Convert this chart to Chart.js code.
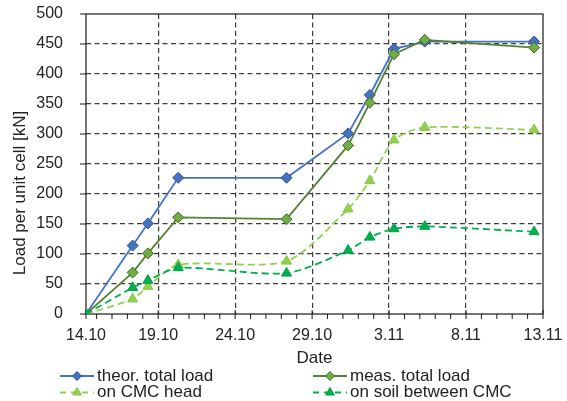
<!DOCTYPE html>
<html><head><meta charset="utf-8">
<script src="https://cdn.jsdelivr.net/npm/chart.js@4.4.1/dist/chart.umd.min.js"></script>
<style>html,body{margin:0;padding:0;background:#fff;}#wrap{width:567px;height:401px;}</style>
</head><body><div id="wrap"><canvas id="c" width="567" height="401"></canvas></div>
<script>
// x = days after 14.10 (19.10 = 5, 3.11 = 20, 13.11 = 30)
const days        = [0.31, 3.34, 4.33, 6.3, 13.34, 17.34, 18.75, 20.32, 22.32, 29.42];
const theorTotal  = [0, 114, 151, 227, 227, 301, 365, 442, 454, 454];
const measTotal   = [0, 69, 101, 161, 158, 281, 352, 433, 457, 444];
const onCmcHead   = [0, 25, 46, 82, 88, 175, 222, 290, 311, 307];
const onSoil      = [0, 44, 56, 77, 68, 106, 128, 142, 146, 137];
const tickDays    = [0.31, 5, 10, 15, 20, 25, 30];
const tickLabels  = ['14.10', '19.10', '24.10', '29.10', '3.11', '8.11', '13.11'];
const seriesNames = ['theor. total load', 'meas. total load', 'on CMC head', 'on soil between CMC'];
const yTitle = 'Load per unit cell [kN]';
const xTitle = 'Date';

const FONT = "'Liberation Sans', Arial, sans-serif";
const TXT = '#222222';
const GRID = '#3c3c3c';
const NONE = 'rgba(0,0,0,0)';

const styles = [
  {line:'#4472C4', fill:'#4472C4', edge:'#2F528F', shape:'rectRot', r:5.5, dash:[], w:1.8, tension:0},
  {line:'#548235', fill:'#70AD47', edge:'#40692A', shape:'rectRot', r:5.5, dash:[], w:1.8, tension:0},
  {line:'#92D050', fill:'#92D050', edge:'#86C445', shape:'triangle', r:5.8, dash:[7,4], w:1.8, tension:0.25},
  {line:'#00B050', fill:'#00B050', edge:'#00A048', shape:'triangle', r:5.8, dash:[7,4], w:1.8, tension:0.25}
];
const seriesData = [theorTotal, measTotal, onCmcHead, onSoil];

const datasets = seriesData.map((vals, k) => ({
  label: seriesNames[k],
  data: days.map((d, i) => ({x: d, y: vals[i]})),
  borderColor: styles[k].line,
  borderWidth: styles[k].w,
  borderDash: styles[k].dash,
  tension: styles[k].tension,
  pointStyle: styles[k].shape,
  pointRadius: styles[k].r,
  pointHoverRadius: styles[k].r,
  pointBackgroundColor: styles[k].fill,
  pointBorderColor: styles[k].edge,
  pointBorderWidth: 1,
  fill: false,
  order: 3 - k
}));

const custom = {
  id: 'custom',
  beforeDatasetsDraw(chart) {
    const {ctx, chartArea: a, scales} = chart;
    ctx.save();
    ctx.strokeStyle = '#1a1a1a';
    ctx.lineWidth = 1.2;
    ctx.setLineDash([]);
    ctx.strokeRect(a.left, a.top, a.right - a.left, a.bottom - a.top);
    // tick marks
    ctx.lineWidth = 1;
    ctx.beginPath();
    scales.x.ticks.forEach(t => {
      const px = scales.x.getPixelForValue(t.value);
      const major = tickDays.some(d => Math.abs(d - t.value) < 1e-6);
      ctx.moveTo(px, a.bottom - (major ? 4 : 0));
      ctx.lineTo(px, a.bottom + 5);
    });
    scales.y.ticks.forEach(t => {
      const py = scales.y.getPixelForValue(t.value);
      ctx.moveTo(a.left - 6, py);
      ctx.lineTo(a.left, py);
    });
    ctx.stroke();
    ctx.restore();
  },
  afterDraw(chart) {
    const {ctx, chartArea: a} = chart;
    ctx.save();
    ctx.fillStyle = TXT;
    ctx.font = '17px ' + FONT;
    ctx.textAlign = 'center';
    ctx.textBaseline = 'middle';
    ctx.fillText(xTitle, (a.left + a.right) / 2, 358);
    ctx.save();
    ctx.translate(20, 193);
    ctx.rotate(-Math.PI / 2);
    ctx.fillText(yTitle, 0, 0);
    ctx.restore();
    // legend 2x2
    const pos = [[60, 376], [313, 376], [60, 392.5], [313, 392.5]];
    seriesNames.forEach((name, k) => {
      const s = styles[k];
      const [x0, y] = pos[k];
      ctx.save();
      ctx.strokeStyle = s.line;
      ctx.lineWidth = s.w;
      if (s.dash.length) ctx.setLineDash([6, 5]); else ctx.setLineDash([]);
      ctx.beginPath();
      ctx.moveTo(x0, y); ctx.lineTo(x0 + 34, y);
      ctx.stroke();
      ctx.setLineDash([]);
      ctx.fillStyle = s.fill;
      ctx.strokeStyle = s.edge;
      ctx.lineWidth = 1;
      Chart.helpers.drawPoint(ctx, {pointStyle: s.shape, radius: s.shape === 'triangle' ? 5 : 4.5, borderWidth: 1, rotation: 0}, x0 + 17, y);
      ctx.restore();
      ctx.fillStyle = TXT;
      ctx.font = '17px ' + FONT;
      ctx.textAlign = 'left';
      ctx.textBaseline = 'middle';
      ctx.fillText(name, x0 + 37, y);
    });
    ctx.restore();
  }
};

new Chart(document.getElementById('c'), {
  type: 'line',
  data: {datasets},
  plugins: [custom],
  options: {
    responsive: false,
    animation: false,
    devicePixelRatio: 1,
    layout: {padding: {top: 14, right: 24, left: 0, bottom: 0}},
    plugins: {legend: {display: false}, tooltip: {enabled: false}, title: {display: false}},
    scales: {
      x: {
        type: 'linear',
        min: tickDays[0],
        max: tickDays[tickDays.length - 1],
        afterBuildTicks: s => {
          const t = [{value: tickDays[0]}];
          for (let d = 1; d <= tickDays[tickDays.length - 1]; d++) t.push({value: d});
          s.ticks = t;
        },
        afterFit: s => { s.height = 87; },
        ticks: {
          autoSkip: false, maxRotation: 0, minRotation: 0, padding: 0,
          font: {family: FONT, size: 16}, color: TXT,
          callback: v => {
            const i = tickDays.findIndex(d => Math.abs(d - v) < 1e-6);
            return i >= 0 ? tickLabels[i] : '';
          }
        },
        grid: {
          color: c => {
            const v = c.tick ? c.tick.value : 0;
            return (v > 1 && v < 29.5 && Math.abs(v % 5) < 1e-6) ? GRID : NONE;
          },
          lineWidth: 1.2, tickLength: 12, tickColor: NONE, tickWidth: 1
        },
        border: {display: false, dash: [5, 3.5]}
      },
      y: {
        min: 0, max: 500,
        afterFit: s => { s.width = 86; },
        ticks: {stepSize: 50, padding: 2, font: {family: FONT, size: 16}, color: TXT},
        grid: {
          color: c => {
            const v = c.tick ? c.tick.value : 0;
            return (v > 0 && v < 500) ? GRID : NONE;
          },
          lineWidth: 1.2, tickLength: 21, tickColor: NONE, tickWidth: 1
        },
        border: {display: false, dash: [5, 3.5]}
      }
    }
  }
});
</script>
</body></html>
